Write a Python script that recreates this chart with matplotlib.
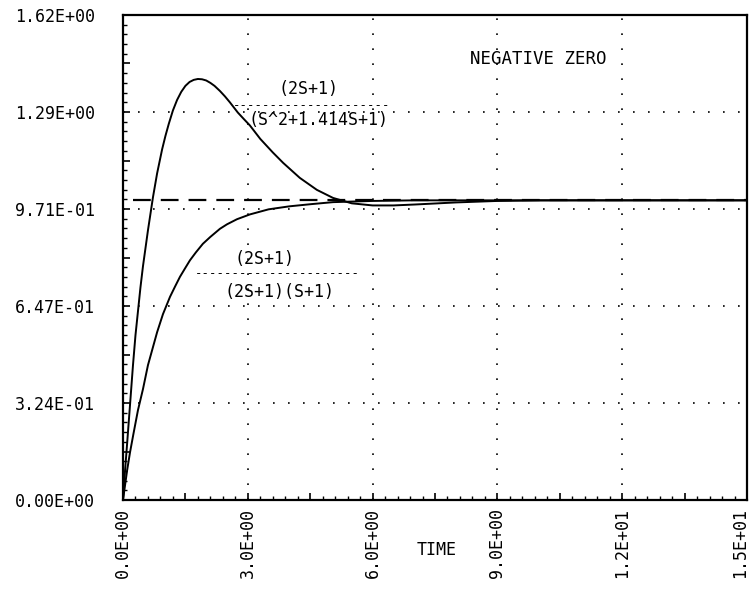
import numpy as np
import matplotlib
matplotlib.use("Agg")
import matplotlib.pyplot as plt
import matplotlib.transforms as mtransforms
from matplotlib.ticker import FixedLocator, FixedFormatter

# ---- data ----
t_neg_zero = [0.0, 0.05, 0.1, 0.17, 0.24, 0.3, 0.36, 0.42, 0.48, 0.54, 0.6, 0.66, 0.72, 0.82,
              0.94, 1.02, 1.1, 1.2, 1.3, 1.4, 1.5, 1.6, 1.7, 1.8, 1.9, 2.0, 2.1, 2.2, 2.33,
              2.45, 2.57, 2.76, 2.9, 3.05, 3.3, 3.6, 3.85, 4.25, 4.66, 5.05, 5.5, 6.0, 6.5,
              7.0, 8.0, 9.0, 10.0, 15.0]
y_neg_zero = [0.0, 0.10, 0.19, 0.32, 0.45, 0.55, 0.63, 0.71, 0.78, 0.84, 0.90, 0.955, 1.01, 1.09,
              1.17, 1.215, 1.255, 1.30, 1.335, 1.362, 1.382, 1.395, 1.402, 1.405, 1.404, 1.40,
              1.392, 1.382, 1.365, 1.347, 1.327, 1.293, 1.272, 1.25, 1.205, 1.16, 1.125, 1.075,
              1.035, 1.008, 0.99, 0.983, 0.983, 0.986, 0.993, 0.998, 1.0, 1.0]

t_first_order = [0.0, 0.05, 0.1, 0.17, 0.25, 0.36, 0.48, 0.6, 0.7, 0.82, 0.96, 1.13, 1.25,
                 1.37, 1.5, 1.61, 1.75, 1.92, 2.1, 2.33, 2.5, 2.74, 3.05, 3.5, 4.0, 4.5, 5.05,
                 6.0, 7.0, 15.0]
y_first_order = [0.0, 0.05, 0.10, 0.16, 0.22, 0.30, 0.37, 0.45, 0.50, 0.56, 0.62, 0.678, 0.712,
                 0.745, 0.775, 0.80, 0.826, 0.855, 0.878, 0.905, 0.92, 0.937, 0.953, 0.97, 0.98,
                 0.987, 0.994, 0.998, 1.0, 1.0]

reference_level = 1.0

x_limits = [0.0, 15.0]
y_limits = [0.0, 1.6185]

xtick_values = [0.0, 3.0, 6.0, 9.0, 12.0, 15.0]
xtick_labels = ["0.0E+00", "3.0E+00", "6.0E+00", "9.0E+00", "1.2E+01", "1.5E+01"]
ytick_values = [0.0, 0.3237, 0.6474, 0.9711, 1.2948, 1.6185]
ytick_labels = ["0.00E+00", "3.24E-01", "6.47E-01", "9.71E-01", "1.29E+00", "1.62E+00"]

title_text = "NEGATIVE ZERO"
xlabel_text = "TIME"
tf1_num = "(2S+1)"
tf1_den = "(S^2+1.414S+1)"
tf2_num = "(2S+1)"
tf2_den = "(2S+1)(S+1)"

# ---- figure ----
FONT = "DejaVu Sans Mono"
plt.rcParams["font.family"] = [FONT, "DejaVu Sans"]

fig = plt.figure(figsize=(7.53, 5.97), dpi=100)
fig.patch.set_facecolor("white")
ax = fig.add_axes([123 / 753, 1 - 500 / 597, (747 - 123) / 753, (500 - 15) / 597])
ax.set_xlim(*x_limits)
ax.set_ylim(*y_limits)

for s in ax.spines.values():
    s.set_linewidth(1.6)
    s.set_color("black")

# ticks: majors at every half interval, minor every tenth
x_major = np.linspace(x_limits[0], x_limits[1], 11)
y_major = np.linspace(y_limits[0], y_limits[1], 11)
x_minor = np.linspace(x_limits[0], x_limits[1], 51)
y_minor = np.linspace(y_limits[0], y_limits[1], 51)

def label_list(major, vals, labs):
    out = []
    for m in major:
        lab = ""
        for v, l in zip(vals, labs):
            if abs(m - v) < 1e-6:
                lab = l
        out.append(lab)
    return out

ax.xaxis.set_major_locator(FixedLocator(x_major))
ax.xaxis.set_major_formatter(FixedFormatter(label_list(x_major, xtick_values, xtick_labels)))
ax.yaxis.set_major_locator(FixedLocator(y_major))
ax.yaxis.set_major_formatter(FixedFormatter(label_list(y_major, ytick_values, ytick_labels)))
ax.xaxis.set_minor_locator(FixedLocator(x_minor))
ax.yaxis.set_minor_locator(FixedLocator(y_minor))

ax.tick_params(axis="both", which="major", direction="in", length=5, width=1.2,
               labelsize=12, top=False, right=False)
ax.tick_params(axis="both", which="minor", direction="in", length=3, width=1.0,
               top=False, right=False)
ax.tick_params(axis="x", which="major", pad=6, labelrotation=90)
ax.tick_params(axis="y", which="major", pad=49)
for lab in ax.get_yticklabels():
    lab.set_horizontalalignment("center")

# keep the last x label inside the canvas
fig.canvas.draw()
xl = ax.get_xticklabels()
last = [l for l in xl if l.get_text() == xtick_labels[-1]]
for l in last:
    l.set_transform(l.get_transform() + mtransforms.ScaledTranslation(-7 / 100, 0, fig.dpi_scale_trans))

# dotted grid at labelled values
for gx in xtick_values[1:-1]:
    ax.axvline(gx, color="black", lw=1.2, ls=(0, (1, 8)), zorder=1)
for gy in ytick_values[1:-1]:
    ax.axhline(gy, color="black", lw=1.2, ls=(0, (1, 8)), zorder=1)

# reference dashed line
ax.axhline(reference_level, color="black", lw=1.6, ls=(8.0, (8.0, 4.5)), zorder=2)

# curves
ax.plot(t_neg_zero, y_neg_zero, color="black", lw=1.4, zorder=3)
ax.plot(t_first_order, y_first_order, color="black", lw=1.4, zorder=3)

# annotations
ax.text(9.98, 1.47, title_text, ha="center", va="center", fontsize=12.5)
ax.text(4.45, 1.370, tf1_num, ha="center", va="center", fontsize=12)
ax.text(4.54, 1.318, "-" * 21, ha="center", va="center", fontsize=9)
ax.text(4.71, 1.268, tf1_den, ha="center", va="center", fontsize=12)
ax.text(3.41, 0.805, tf2_num, ha="center", va="center", fontsize=12)
ax.text(3.70, 0.755, "-" * 22, ha="center", va="center", fontsize=9)
ax.text(3.75, 0.695, tf2_den, ha="center", va="center", fontsize=12)

fig.text(437 / 753, 1 - 550 / 597, xlabel_text, ha="center", va="center", fontsize=12)

fig.savefig("out.png", dpi=100, facecolor="white")
